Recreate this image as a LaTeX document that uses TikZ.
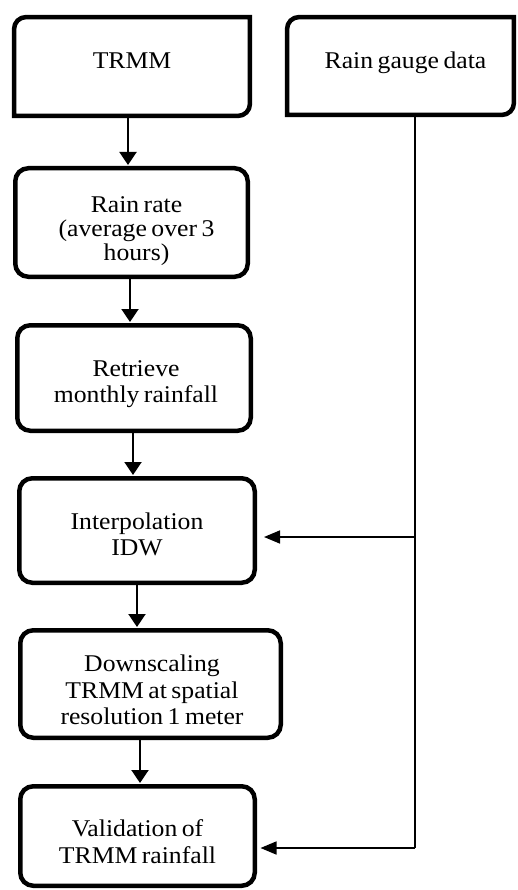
\documentclass[tikz,border=0pt]{standalone}
\usepackage{fontspec}
\setmainfont[FakeStretch=1.07,WordSpace=0.7]{Liberation Serif}
\usetikzlibrary{arrows.meta}
\begin{document}
\begin{tikzpicture}[x=1pt,y=1pt,
  box/.style={draw,line width=4.5pt,rounded corners=13pt,inner sep=0pt},
  boxtext/.style={align=center,font=\fontsize{24}{26.5}\selectfont,inner sep=0pt},
  srcbox/.style={font=\fontsize{24}{26}\selectfont,inner sep=0pt,text depth=12pt},
  flow/.style={line width=2pt,-{Triangle[width=17pt,length=13pt]},shorten >=1pt},
  feed/.style={line width=1.6pt,-{Triangle[width=13pt,length=16pt]}}]
  \useasboundingbox (0,0) rectangle (517,-890);

  \node[srcbox,minimum width=235.5pt,minimum height=98.5pt] (trmm) at (132,-66.5) {TRMM};
  \node[srcbox,minimum width=226.5pt,minimum height=97.5pt] (gauge) at (400.5,-66)
    {\hspace*{10pt}Rain gauge data};
  \draw[line width=4.5pt] (trmm.south west) -- ([yshift=-12pt]trmm.north west)
    arc[start angle=180,end angle=90,radius=12pt] -- (trmm.north east)
    -- ([yshift=12pt]trmm.south east) arc[start angle=0,end angle=-90,radius=12pt] -- cycle;
  \draw[line width=4.5pt] (gauge.south west) -- ([yshift=-12pt]gauge.north west)
    arc[start angle=180,end angle=90,radius=12pt] -- (gauge.north east)
    -- ([yshift=12pt]gauge.south east) arc[start angle=0,end angle=-90,radius=12pt] -- cycle;

  \node[box,minimum width=232.5pt,minimum height=108.5pt,
    label={[boxtext,font=\fontsize{24}{24}\selectfont,xshift=5pt,yshift=-9pt]center:{Rain rate\\(average over 3\\hours)}}]
    (rain) at (131.5,-222.5) {};
  \node[box,minimum width=233.5pt,minimum height=105.5pt,
    label={[boxtext,xshift=2pt,yshift=-6pt]center:{Retrieve\\monthly rainfall}}]
    (retr) at (134,-378) {};
  \node[box,minimum width=235.5pt,minimum height=104.5pt,
    label={[boxtext,yshift=-4pt]center:{Interpolation\\IDW}}]
    (interp) at (137,-530.5) {};
  \node[box,minimum width=260.5pt,minimum height=107.5pt,
    label={[boxtext,xshift=1.5pt,yshift=-6pt]center:{Downscaling\\TRMM at spatial\\resolution 1 meter}}]
    (down) at (150.5,-684) {};
  \node[box,minimum width=234.5pt,minimum height=99.5pt,
    label={[boxtext,yshift=-5.5pt]center:{Validation of\\TRMM rainfall}}]
    (valid) at (137.5,-836) {};

  \draw[flow] ([xshift=-4pt]trmm.south) -- ([xshift=-4pt]trmm.south |- rain.north);
  \draw[flow] ([xshift=-1.5pt]rain.south) -- ([xshift=-1.5pt]rain.south |- retr.north);
  \draw[flow] ([xshift=-1pt]retr.south) -- ([xshift=-1pt]retr.south |- interp.north);
  \draw[flow] (interp.south) -- (interp.south |- down.north);
  \draw[flow] ([xshift=2.5pt]valid.north |- down.south) -- ([xshift=2.5pt]valid.north);

  \coordinate (tap) at ([xshift=14.5pt]gauge.south);
  \coordinate (inA) at ([yshift=-6.5pt]interp.east);
  \coordinate (inB) at ([yshift=-12pt]valid.east);
  \draw[line width=1.6pt] (tap) -- (tap |- inB);
  \draw[feed,shorten >=7pt] (tap |- inA) -- (inA);
  \draw[feed,shorten >=3.5pt] (tap |- inB) -- (inB);
\end{tikzpicture}
\end{document}
